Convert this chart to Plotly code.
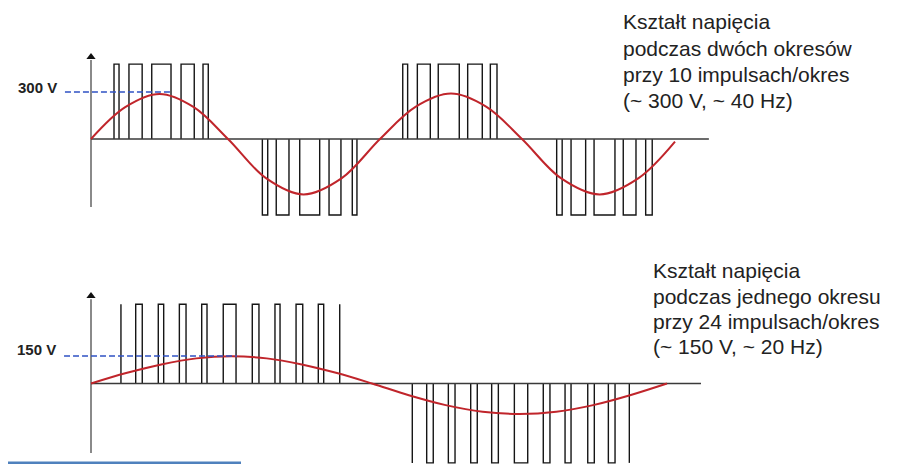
import plotly.graph_objects as go

# ---------------- DATA ----------------
# Top panel: two periods, 10 pulses per period (~300 V, ~40 Hz). Time in ms, voltage in V.
top_pulse_start = [1.97, 3.25, 5.20, 7.71, 9.59,
                   14.67, 15.86, 17.87, 20.38, 22.37,
                   26.69, 27.94, 29.73, 32.25, 34.19,
                   39.87, 41.10, 43.07, 45.57, 47.49]
top_pulse_end = [2.40, 4.38, 6.85, 8.84, 10.04,
                 15.13, 16.95, 19.58, 21.40, 22.77,
                 27.11, 29.05, 31.53, 33.50, 34.76,
                 40.34, 42.35, 44.86, 46.66, 48.05]
top_pulse_level = [478, 478, 478, 478, 478,
                   -485, -485, -485, -485, -485,
                   478, 478, 478, 478, 478,
                   -485, -485, -485, -485, -485]
top_sine_t = [0, 2.93, 5.87, 8.80, 11.73, 14.98, 18.20, 21.47, 24.74,
              27.78, 30.82, 33.86, 36.90, 40.23, 43.55, 46.88, 50.0]
top_sine_v = [0, 203, 287, 203, 0, -250, -354, -250, 0,
              205, 290, 205, 0, -250, -354, -250, -17]
top_ref_voltage = 300
top_label = "300 V"
top_text = ["Kształt napięcia", "podczas dwóch okresów",
            "przy 10 impulsach/okres", "(~ 300 V, ~ 40 Hz)"]

# Bottom panel: one period, 24 pulses per period (~150 V, ~20 Hz).
bot_pulse_start = [2.60, 3.88, 5.84, 7.67, 9.61, 11.48, 14.00, 15.97, 17.80, 19.73, 21.59,
                   27.89, 29.14, 31.02, 32.96, 34.78, 36.75, 39.26, 41.15, 43.12, 44.91, 46.73]
bot_pulse_end = [2.60, 4.45, 6.31, 8.25, 10.07, 12.59, 14.58, 16.41, 18.38, 20.20, 21.59,
                 27.89, 29.71, 31.60, 33.53, 35.36, 37.91, 39.84, 41.67, 43.69, 45.49, 46.73]
bot_pulse_level = [432, 432, 432, 432, 432, 432, 432, 432, 432, 432, 432,
                   -433, -433, -433, -433, -433, -433, -433, -433, -433, -433, -433]
bot_sine_t = [0, 3.05, 6.10, 9.15, 12.20, 15.25, 18.30, 21.35, 24.39,
              27.59, 30.79, 33.99, 37.19, 40.39, 43.59, 46.79, 50.0]
bot_sine_v = [0, 57, 104, 137, 148, 137, 104, 57, 0,
              -64, -118, -154, -166, -154, -118, -64, 0]
bot_ref_voltage = 150
bot_label = "150 V"
bot_text = ["Kształt napięcia", "podczas jednego okresu",
            "przy 24 impulsach/okres", "(~ 150 V, ~ 20 Hz)"]

# ---------------- STYLE / LAYOUT ----------------
W, H = 915, 464
OFF = 8  # page body margin of the browser
FONT = "Liberation Sans, Arial, sans-serif"
PULSE_COLOR = "#151515"
ZERO_COLOR = "#3a3a3a"
AXIS_COLOR = "#8a8a8a"
SINE_COLOR = "#c0252b"
REF_COLOR = "#2f52c4"
TEXT_COLOR = "#222222"

# page-pixel geometry used only to set axis ranges / domains
TOP = dict(x0=91, pxms=11.68, y0=139, pxv=47 / 300, ytop=30, ybot=230)
BOT = dict(x0=91, pxms=11.52, y0=383.5, pxv=27.5 / 150, ytop=280, ybot=464)


def xr(g):
    x0 = g["x0"] - OFF
    return [-x0 / g["pxms"], (W - x0) / g["pxms"]]


def yr(g):
    y0, yt, yb = g["y0"] - OFF, g["ytop"] - OFF, g["ybot"] - OFF
    return [(y0 - yb) / g["pxv"], (y0 - yt) / g["pxv"]]


def dom(g):
    yt, yb = g["ytop"] - OFF, g["ybot"] - OFF
    return [(H - yb) / H, (H - yt) / H]


def waveform(starts, ends, levels):
    xs, ys = [], []
    for a, b, lv in zip(starts, ends, levels):
        if a == b:
            xs += [a, a, None]
            ys += [0, lv, None]
        else:
            xs += [a, a, b, b, None]
            ys += [0, lv, lv, 0, None]
    return xs, ys


fig = go.Figure()


def add_panel(xa, ya, starts, ends, levels, st, sv, ref_v, axis_lo, axis_hi, arrow_v,
              ref_start, ref_end, zero_end):
    fig.add_trace(go.Scatter(x=[0, 0], y=[axis_lo, axis_hi], mode="lines",
                             line=dict(color=AXIS_COLOR, width=2), xaxis=xa, yaxis=ya,
                             hoverinfo="skip"))
    fig.add_trace(go.Scatter(x=[0], y=[arrow_v], mode="markers",
                             marker=dict(symbol="triangle-up", size=8, color="#111111"),
                             xaxis=xa, yaxis=ya, hoverinfo="skip"))
    px_, py_ = waveform(starts, ends, levels)
    fig.add_trace(go.Scatter(x=px_, y=py_, mode="lines",
                             line=dict(color=PULSE_COLOR, width=1.4), xaxis=xa, yaxis=ya,
                             connectgaps=False, hoverinfo="skip"))
    fig.add_trace(go.Scatter(x=[0, zero_end], y=[0, 0], mode="lines",
                             line=dict(color=ZERO_COLOR, width=1.6), xaxis=xa, yaxis=ya,
                             hoverinfo="skip"))
    fig.add_trace(go.Scatter(x=st, y=sv, mode="lines",
                             line=dict(color=SINE_COLOR, width=2, shape="spline", smoothing=1.0),
                             xaxis=xa, yaxis=ya, hoverinfo="skip"))
    fig.add_trace(go.Scatter(x=[ref_start, ref_end], y=[ref_v, ref_v], mode="lines",
                             line=dict(color=REF_COLOR, width=1.4, dash="6px,3px"),
                             xaxis=xa, yaxis=ya, hoverinfo="skip"))


add_panel("x", "y", top_pulse_start, top_pulse_end, top_pulse_level,
          top_sine_t, top_sine_v, top_ref_voltage, -434, 505, 523, -2.23, 6.76, 52.9)
add_panel("x2", "y2", bot_pulse_start, bot_pulse_end, bot_pulse_level,
          bot_sine_t, bot_sine_v, bot_ref_voltage, -379, 460, 477, -2.34, 12.67, 52.95)

ann = []
ann.append(dict(x=-2.75, y=329, xref="x", yref="y", text=f"<b>{top_label}</b>",
                showarrow=False, xanchor="right", yanchor="middle",
                font=dict(family=FONT, size=15, color=TEXT_COLOR)))
ann.append(dict(x=-2.85, y=183, xref="x2", yref="y2", text=f"<b>{bot_label}</b>",
                showarrow=False, xanchor="right", yanchor="middle",
                font=dict(family=FONT, size=15, color=TEXT_COLOR)))

top_line_y = [22, 48.3, 75, 100]
bot_line_y = [270, 296.7, 321.7, 346.7]
for txt, yy in zip(top_text, top_line_y):
    ann.append(dict(x=(621 - OFF) / W, y=1 - (yy - OFF) / H, xref="paper", yref="paper",
                    text=txt, showarrow=False, xanchor="left", yanchor="middle",
                    font=dict(family=FONT, size=21, color=TEXT_COLOR)))
for txt, yy in zip(bot_text, bot_line_y):
    ann.append(dict(x=(651 - OFF) / W, y=1 - (yy - OFF) / H, xref="paper", yref="paper",
                    text=txt, showarrow=False, xanchor="left", yanchor="middle",
                    font=dict(family=FONT, size=21, color=TEXT_COLOR)))

hidden = dict(visible=False, showgrid=False, zeroline=False, fixedrange=True)
fig.update_layout(
    width=W, height=H,
    margin=dict(l=0, r=0, t=0, b=0, pad=0),
    paper_bgcolor="white", plot_bgcolor="rgba(0,0,0,0)",
    showlegend=False,
    xaxis=dict(range=xr(TOP), domain=[0, 1], anchor="y", **hidden),
    yaxis=dict(range=yr(TOP), domain=dom(TOP), anchor="x", **hidden),
    xaxis2=dict(range=xr(BOT), domain=[0, 1], anchor="y2", **hidden),
    yaxis2=dict(range=yr(BOT), domain=dom(BOT), anchor="x2", **hidden),
    annotations=ann,
    shapes=[dict(type="line", xref="paper", yref="paper", x0=0, x1=(241 - OFF) / W,
                 y0=1 - (463 - OFF) / H, y1=1 - (463 - OFF) / H,
                 line=dict(color="#4f81bd", width=3))],
)

fig.write_html("out.html")
